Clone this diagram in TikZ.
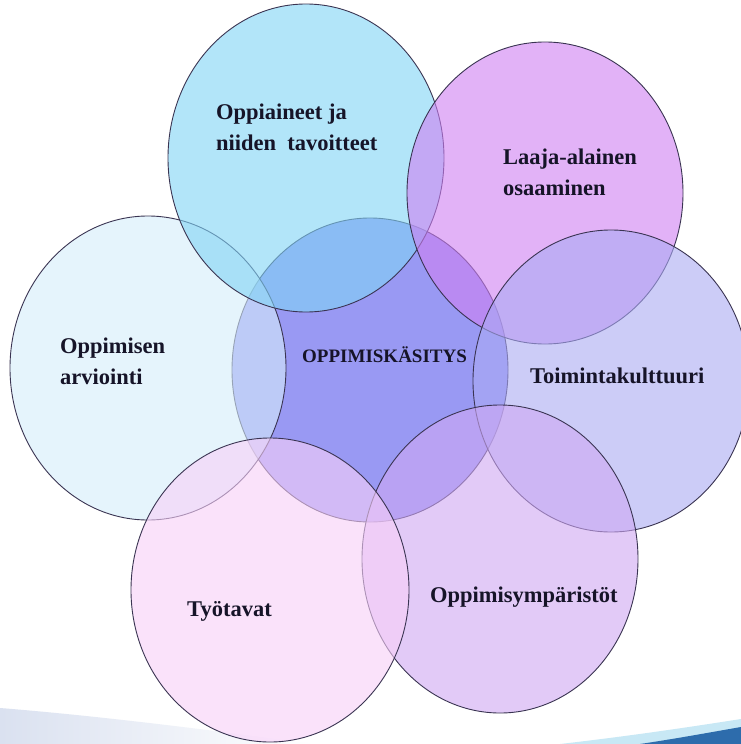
\documentclass[tikz,border=0pt]{standalone}
\usepackage{fontspec}
\setmainfont{Liberation Serif}
\usetikzlibrary{shapes.geometric}
\definecolor{cCenter}{RGB}{85,85,235}
\definecolor{cLeft}{RGB}{213,237,250}
\definecolor{cTop}{RGB}{128,212,245}
\definecolor{cTopR}{RGB}{207,128,242}
\definecolor{cRight}{RGB}{170,170,243}
\definecolor{cBotR}{RGB}{207,168,243}
\definecolor{cBotL}{RGB}{248,208,248}
\definecolor{edge}{RGB}{58,52,82}
\definecolor{ink}{RGB}{22,20,40}
\definecolor{swooshL}{RGB}{218,225,240}
\definecolor{swooshC}{RGB}{200,232,245}
\definecolor{swooshB}{RGB}{45,108,172}
\tikzset{
  blob/.style={ellipse, draw=edge, line width=0.9pt, fill=#1, fill opacity=0.6, draw opacity=1, inner sep=0pt},
  lbl/.style={font=\bfseries\fontsize{22.5}{31}\selectfont, align=left, anchor=base west, inner sep=0pt, text=ink},
}
\begin{document}
\begin{tikzpicture}[x=1pt,y=-1pt]
\useasboundingbox (0,0) rectangle (741,744);
\fill[white] (0,0) rectangle (741,744);
% bottom swooshes
\shade[left color=swooshL, right color=white] (0,708) .. controls (100,716) and (210,730) .. (315,744) -- (0,744) -- cycle;
\fill[swooshC] (560,744) .. controls (630,736) and (690,727) .. (741,719) -- (741,744) -- cycle;
\fill[swooshB] (640,744) .. controls (680,738) and (712,732) .. (741,727) -- (741,744) -- cycle;
% circles
\node[blob=cCenter, minimum width=276pt, minimum height=304pt] (center) at (370,370) {};
\node[blob=cLeft, minimum width=276pt, minimum height=304pt] (left) at (148,368) {};
\node[blob=cTop, minimum width=276pt, minimum height=308pt] (top) at (306,158) {};
\node[blob=cTopR, minimum width=276pt, minimum height=302pt] (topr) at (545,193) {};
\node[blob=cRight, minimum width=276pt, minimum height=302pt] (right) at (611,381) {};
\node[blob=cBotR, minimum width=276pt, minimum height=308pt] (botr) at (500,559) {};
\node[blob=cBotL, minimum width=278pt, minimum height=304pt] (botl) at (270,590) {};
% labels
\node[lbl] (tTop) at (216,150) {Oppiaineet ja\\niiden\ \ tavoitteet};
\node[lbl] (tTopR) at (503,195) {Laaja-alainen\\osaaminen};
\node[lbl] (tLeft) at (60,384) {Oppimisen\\arviointi};
\node[lbl, font=\bfseries\fontsize{19}{23}\selectfont] (tCenter) at (302,362) {OPPIMISKÄSITYS};
\node[lbl] (tRight) at (530,383) {Toimintakulttuuri};
\node[lbl] (tBotL) at (187,616) {Työtavat};
\node[lbl] (tBotR) at (430,602) {Oppimisympäristöt};
\end{tikzpicture}
\end{document}
